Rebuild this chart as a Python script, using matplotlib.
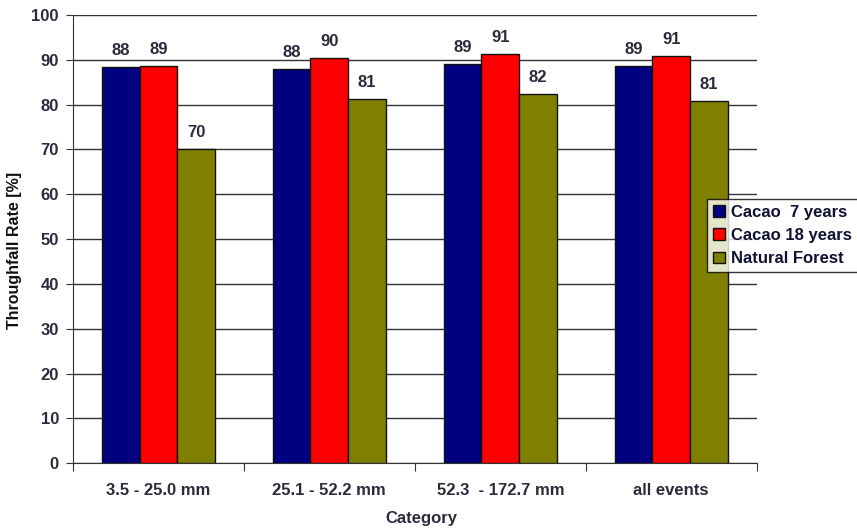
import numpy as np
import matplotlib
matplotlib.use("Agg")
import matplotlib.pyplot as plt

plt.rcParams['font.family'] = ['Liberation Sans', 'DejaVu Sans']

categories = ["3.5 - 25.0 mm", "25.1 - 52.2 mm", "52.3  - 172.7 mm", "all events"]
series_names = ["Cacao  7 years", "Cacao 18 years", "Natural Forest"]
cacao_7 = [88.4, 87.9, 89.0, 88.6]
cacao_18 = [88.6, 90.4, 91.3, 90.9]
natural_forest = [70.0, 81.3, 82.4, 80.7]
colors = ["#000080", "#FF0000", "#808000"]

text_col = "#2b2b3c"

fig = plt.figure(figsize=(8.57, 5.30), dpi=100)
ax = fig.add_axes([0.085, 0.126, 0.798, 0.846])

x = np.arange(len(categories))
width = 0.22
offsets = [-width, 0, width]
for vals, name, col, off in zip([cacao_7, cacao_18, natural_forest], series_names, colors, offsets):
    bars = ax.bar(x + off, vals, width, color=col, edgecolor="#111111", linewidth=1.0,
                  label=name, zorder=3)
    for b, v in zip(bars, vals):
        ax.annotate(f"{round(v):d}", (b.get_x() + b.get_width() / 2, v),
                    xytext=(0, 6.5), textcoords="offset points", ha="center", va="bottom",
                    fontsize=12, fontweight="bold", color=text_col)

ax.set_xlim(-0.5, len(categories) - 0.5)
ax.set_ylim(0, 100)
ax.set_yticks(np.arange(0, 101, 10))
ax.yaxis.grid(True, color="#333333", linewidth=1.0, zorder=0)
ax.set_axisbelow(True)
for s in ["top", "right"]:
    ax.spines[s].set_visible(False)
ax.spines["left"].set_color("#333333")
ax.spines["bottom"].set_color("#333333")

ax.set_xticks(np.arange(-0.5, len(categories), 1.0))
ax.set_xticklabels([])
ax.set_xticks(x, minor=True)
ax.set_xticklabels(categories, minor=True)
ax.tick_params(axis="x", which="major", length=6, direction="out", color="#333333")
ax.tick_params(axis="x", which="minor", length=0, pad=14)
ax.tick_params(axis="y", length=5, color="#333333", pad=5)
for lbl in ax.get_xticklabels(minor=True) + ax.get_yticklabels():
    lbl.set_fontweight("bold")
    lbl.set_fontsize(12)
    lbl.set_color(text_col)

# axis titles placed in figure pixels
fig.text(421 / 857, 1 - 519 / 530, "Category", fontsize=12, fontweight="bold",
         color=text_col, ha="center", va="center")
fig.text(15 / 857, 1 - 250 / 530, "Throughfall Rate [%]", fontsize=11.5, fontweight="bold",
         color="#111111", ha="center", va="center", rotation=90)

leg = ax.legend(loc="upper left", bbox_to_anchor=(0.928, 0.590), frameon=True, fancybox=False,
                edgecolor="black", fontsize=12, handlelength=0.7, handleheight=0.7,
                handletextpad=0.35, borderpad=0.35, labelspacing=0.5, borderaxespad=0)
leg.get_frame().set_linewidth(1.0)
leg.set_clip_on(False)
for t in leg.get_texts():
    t.set_fontweight("bold")
    t.set_color("#111133")

fig.savefig("out.png", dpi=100, facecolor="white")
